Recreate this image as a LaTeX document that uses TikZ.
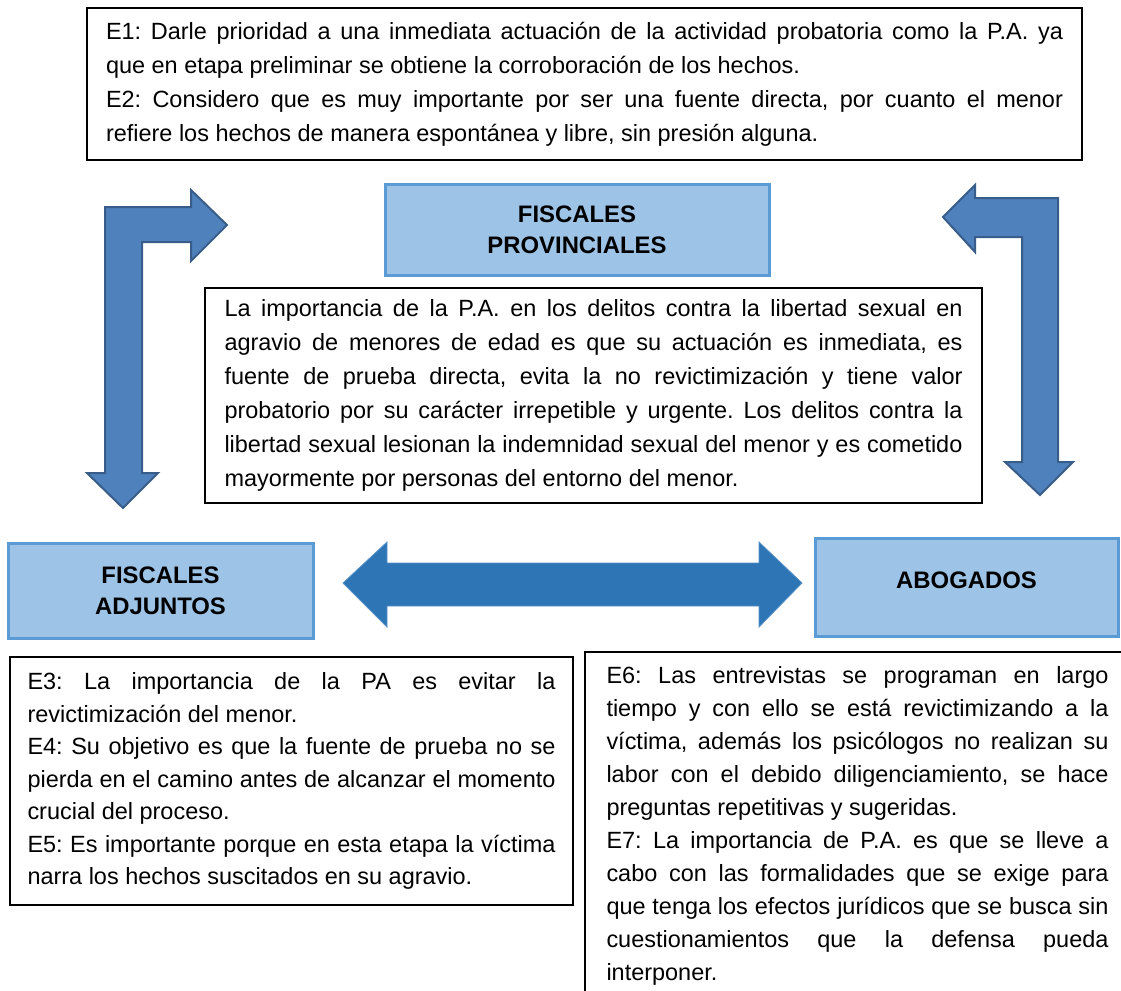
\documentclass[tikz,border=0pt]{standalone}
\usepackage{fontspec}
\setmainfont{Liberation Sans}
\usepackage{xcolor}
\definecolor{boxblue}{HTML}{9DC3E6}
\definecolor{boxline}{HTML}{5B9BD5}
\definecolor{arrowblue}{HTML}{4F81BD}
\definecolor{arrowline}{HTML}{385D8A}
\definecolor{linkblue}{HTML}{2E75B6}
\setlength{\parindent}{0pt}
\hyphenpenalty=10000
\exhyphenpenalty=10000
\frenchspacing

\begin{document}
\begin{tikzpicture}[x=0.75pt,y=-0.75pt,
	textbox/.style={draw=black, line width=1.2pt, fill=white, inner sep=0pt, align=justify},
	bodytext/.style={font=\fontsize{17.6}{25.5}\selectfont},
	roletext/.style={draw=boxline, line width=2.25pt, fill=boxblue, inner sep=0pt, align=center, font=\bfseries\fontsize{17.9}{23.25}\selectfont},
	bentarrow/.style={fill=arrowblue, draw=arrowline, line width=1.5pt, line join=miter},
	linkarrow/.style={fill=linkblue, draw=linkblue!80!white, line width=0.6pt}]
			%\draw[help lines] (0,0) grid[step=50] (1121,990);
			\useasboundingbox (0,0) rectangle (1121,990);
			\clip (0,0) rectangle (1121,990);
			
			% testimonios de los fiscales provinciales
			\node[textbox, bodytext, minimum width=746.25pt, minimum height=114pt, text width=717.75pt] (E12) at (584.5,84)
			{E1: Darle prioridad a una inmediata actuación de la actividad probatoria como la P.A. ya\linebreak
			que en etapa preliminar se obtiene la corroboración de los hechos.\par
			E2: Considero que es muy importante por ser una fuente directa, por cuanto el menor\linebreak
			refiere los hechos de manera espontánea y libre, sin presión alguna.};
			
			% los tres grupos
			\node[roletext, minimum width=288pt, minimum height=68.25pt] (FP) at (577,229.5) {FISCALES\\PROVINCIALES};
			\node[roletext, minimum width=228.75pt, minimum height=71.25pt] (FA) at (160.5,591) {FISCALES\\ADJUNTOS};
			\node[roletext, minimum width=227.25pt, minimum height=73.5pt] (AB) at (966.5,587) {\raisebox{5pt}[\height][\depth]{ABOGADOS}};
			
			% conclusion
			\node[textbox, bodytext, minimum width=582.75pt, minimum height=161.25pt, text width=553.5pt] (PA) at (593.5,395.5)
			{La importancia de la P.A. en los delitos contra la libertad sexual en\linebreak
			agravio de menores de edad es que su actuación es inmediata, es\linebreak
			fuente de prueba directa, evita la no revictimización y tiene valor\linebreak
			probatorio por su carácter irrepetible y urgente. Los delitos contra la\linebreak
			libertad sexual lesionan la indemnidad sexual del menor y es cometido\linebreak
			mayormente por personas del entorno del menor.};
			
			% testimonios de fiscales adjuntos y abogados
			\node[textbox, font=\fontsize{17.6}{24.4}\selectfont, minimum width=422.25pt, minimum height=186pt, text width=396pt] (E345) at (291.5,781)
			{E3: La importancia de la PA es evitar la\linebreak
			revictimización del menor.\par
			E4: Su objetivo es que la fuente de prueba no se\linebreak
			pierda en el camino antes de alcanzar el momento\linebreak
			crucial del proceso.\par
			E5: Es importante porque en esta etapa la víctima\linebreak
			narra los hechos suscitados en su agravio.};
			\node[textbox, font=\fontsize{17.6}{24.75}\selectfont, minimum width=408.75pt, minimum height=261pt, text width=376.5pt] (E67) at (857.5,826)
			{E6: Las entrevistas se programan en largo\linebreak
			tiempo y con ello se está revictimizando a la\linebreak
			víctima, además los psicólogos no realizan su\linebreak
			labor con el debido diligenciamiento, se hace\linebreak
			preguntas repetitivas y sugeridas.\par
			E7: La importancia de P.A. es que se lleve a\linebreak
			cabo con las formalidades que se exige para\linebreak
			que tenga los efectos jurídicos que se busca sin\linebreak
			cuestionamientos que la defensa pueda\linebreak
			interponer.};
			
			% flechas
			\draw[bentarrow] (105,473) -- (105,207) -- (191,207) -- (191,190) -- (227,225) -- (191,261)
				-- (191,242) -- (142,242) -- (142,473) -- (158,473) -- (123,508) -- (87,473) -- cycle;
			\draw[bentarrow] (943,217) -- (975,185) -- (975,198) -- (1058,198) -- (1058,462) -- (1073,462)
				-- (1040,495) -- (1005,462) -- (1022,462) -- (1022,237) -- (975,237) -- (975,252) -- cycle;
			\draw[linkarrow] (343,583) -- (387,542) -- (387,563) -- (759,563) -- (759,542) -- (802,583)
				-- (759,627) -- (759,606) -- (387,606) -- (387,627) -- cycle;
			
\end{tikzpicture}
\end{document}
